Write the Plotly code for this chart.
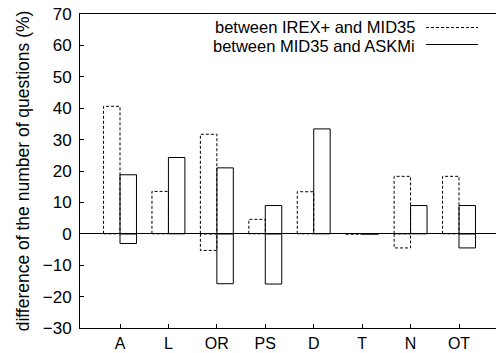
import plotly.graph_objects as go

categories = ["A", "L", "OR", "PS", "D", "T", "N", "OT"]
# between IREX+ and MID35 (dashed): positive and negative parts
irex_pos = [40.6, 13.5, 31.7, 4.6, 13.4, 0.0, 18.3, 18.3]
irex_neg = [0.0, 0.0, -5.3, 0.0, 0.0, 0.0, -4.5, 0.0]
# between MID35 and ASKMi (solid): positive and negative parts
askmi_pos = [18.8, 24.3, 21.0, 9.0, 33.4, 0.0, 9.0, 9.0]
askmi_neg = [-3.1, 0.0, -15.9, -16.0, 0.0, 0.0, 0.0, -4.5]
y_ticks = [-30, -20, -10, 0, 10, 20, 30, 40, 50, 60, 70]

BW = 0.34
FONT = "Liberation Sans, Arial, Helvetica, sans-serif"


def rects(pos, neg, left_offset):
    xs, ys = [], []
    for i, (p, n) in enumerate(zip(pos, neg)):
        c = i + 1
        l, r = c + left_offset, c + left_offset + BW
        for v in (p, n):
            if v == 0 and v is n and p != 0:
                continue
            xs += [l, l, r, r, l, None]
            ys += [0, v, v, 0, 0, None]
    return xs, ys


fig = go.Figure()
xd, yd = rects(irex_pos, irex_neg, -BW)
xs, ys = rects(askmi_pos, askmi_neg, 0.0)
fig.add_trace(go.Scatter(x=xd, y=yd, mode="lines", name="between IREX+ and MID35",
                         line=dict(color="black", width=1, dash="3px,2px"), showlegend=False))
fig.add_trace(go.Scatter(x=xs, y=ys, mode="lines", name="between MID35 and ASKMi",
                         line=dict(color="black", width=1), showlegend=False))

# gnuplot-style key: text then sample line
L, R, T, B = 80, 496, 14, 328
def px(x):
    return (x - L) / (R - L)
def py(y):
    return (B - y) / (B - T)

KEYFONT = dict(family=FONT, size=16.5, color="black")
fig.add_annotation(x=px(417), y=py(27), xref="paper", yref="paper", text="between IREX+ and MID35",
                   showarrow=False, xanchor="right", yanchor="middle", font=KEYFONT)
fig.add_annotation(x=px(417), y=py(45.5), xref="paper", yref="paper", text="between MID35 and ASKMi",
                   showarrow=False, xanchor="right", yanchor="middle", font=KEYFONT)
fig.add_shape(type="line", xref="paper", yref="paper", x0=px(426), x1=px(478), y0=py(27.5), y1=py(27.5),
              line=dict(color="black", width=1, dash="3px,2px"))
fig.add_shape(type="line", xref="paper", yref="paper", x0=px(426), x1=px(478), y0=py(44.5), y1=py(44.5),
              line=dict(color="black", width=1))

fig.update_layout(
    width=496, height=353,
    margin=dict(l=80, r=0, t=14, b=25, autoexpand=False),
    paper_bgcolor="white", plot_bgcolor="white",
    font=dict(family=FONT, size=17, color="black"),
    showlegend=False,
)
fig.update_xaxes(
    range=[0.174, 8.764], tickmode="array", tickvals=list(range(1, len(categories) + 1)), ticktext=categories,
    ticks="inside", ticklen=4, tickcolor="black", showgrid=False, zeroline=False,
    showline=True, linecolor="black", linewidth=1, mirror=True, ticklabelstandoff=1,
    tickfont=dict(family=FONT, size=16), automargin=False,
)
fig.update_yaxes(
    range=[-30, 70], tickmode="array", tickvals=y_ticks,
    ticks="inside", ticklen=4, tickcolor="black", showgrid=False,
    zeroline=True, zerolinecolor="black", zerolinewidth=1,
    showline=True, linecolor="black", linewidth=1, mirror=False, ticklabelstandoff=4,
    tickfont=dict(family=FONT, size=17), automargin=False,
    title=dict(text="difference of the number of questions (%)", font=dict(family=FONT, size=17.5), standoff=8),
)
fig.write_html("out.html")
